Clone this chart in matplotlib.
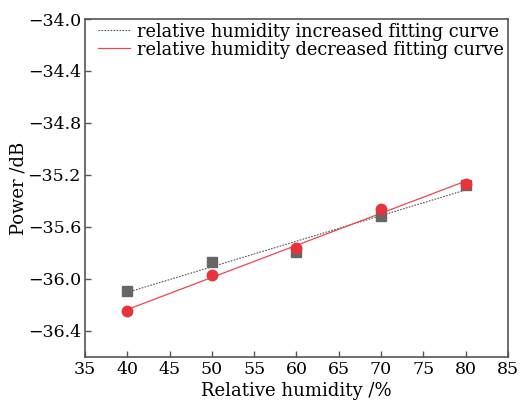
import numpy as np
import matplotlib
matplotlib.use("Agg")
import matplotlib.pyplot as plt

humidity = [40, 50, 60, 70, 80]
power_increased = [-36.09, -35.87, -35.79, -35.52, -35.28]
power_decreased = [-36.25, -35.97, -35.76, -35.46, -35.27]
x_ticks = [35, 40, 45, 50, 55, 60, 65, 70, 75, 80, 85]
y_ticks = [-34.0, -34.4, -34.8, -35.2, -35.6, -36.0, -36.4]

plt.rcParams['font.family'] = ['DejaVu Serif']
plt.rcParams['mathtext.fontset'] = 'dejavuserif'

fig = plt.figure(figsize=(5.22, 4.0), dpi=100)
ax = fig.add_axes([0.163, 0.108, 0.810, 0.8445])

x = np.array(humidity, dtype=float)
gi = np.polyfit(x, power_increased, 1)
rd = np.polyfit(x, power_decreased, 1)
xf = np.array([x.min(), x.max()])

ax.plot(xf, np.polyval(gi, xf), color='#555555', lw=0.8, ls=(0, (1.5, 1.2)),
        label='relative humidity increased fitting curve', zorder=2)
ax.plot(xf, np.polyval(rd, xf), color='#e8484e', lw=0.9, ls='-',
        label='relative humidity decreased fitting curve', zorder=2)
ax.plot(x, power_increased, ls='none', marker='s', ms=6.5, color='#666666', zorder=3)
ax.plot(x, power_decreased, ls='none', marker='o', ms=7.5, color='#e8333a', zorder=4)

ax.set_xlim(35, 85)
ax.set_ylim(-36.6, -34.0)
ax.set_xticks(x_ticks)
ax.set_yticks(y_ticks)
ax.set_xticklabels([str(t) for t in x_ticks])
ax.set_yticklabels(['\u2212%.1f' % abs(t) for t in y_ticks])
ax.tick_params(direction='in', length=4, width=1.0, color='#555555', labelsize=12.5,
               top=False, right=False, pad=3)
for s in ax.spines.values():
    s.set_color('#555555')
    s.set_linewidth(1.2)

ax.set_xlabel('Relative humidity /%', fontsize=13, labelpad=3)
ax.set_ylabel('Power /dB', fontsize=13, labelpad=0)

leg = ax.legend(loc='upper right', bbox_to_anchor=(1.0, 1.0), frameon=False,
                fontsize=12.8, handlelength=1.8, handletextpad=0.4,
                labelspacing=0.0, borderaxespad=0.05, borderpad=0.15)

fig.savefig('out.png', dpi=100)
